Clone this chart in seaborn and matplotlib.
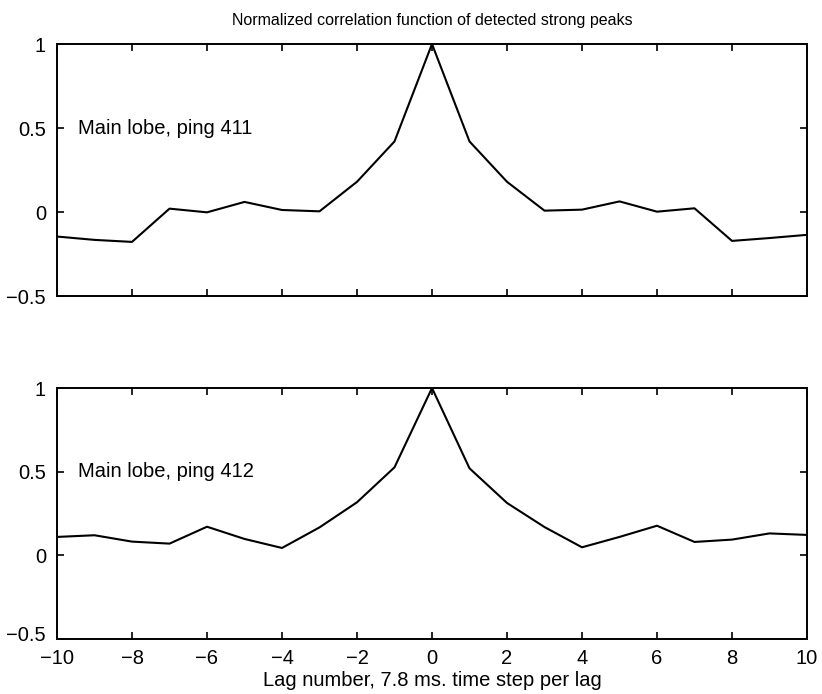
import numpy as np
import pandas as pd
import matplotlib
matplotlib.use("Agg")
import matplotlib.pyplot as plt
import matplotlib.transforms as mtransforms
import seaborn as sns

lags = list(range(-10, 11))
ping411 = [-0.146, -0.166, -0.178, 0.02, -0.002, 0.06, 0.012, 0.004, 0.18, 0.42, 1.0,
           0.42, 0.18, 0.008, 0.014, 0.063, 0.002, 0.022, -0.172, -0.155, -0.136]
ping412 = [0.11, 0.12, 0.082, 0.07, 0.171, 0.098, 0.044, 0.167, 0.317, 0.526, 1.0,
           0.52, 0.313, 0.169, 0.048, 0.11, 0.177, 0.08, 0.094, 0.131, 0.122]
labels = ["Main lobe, ping 411", "Main lobe, ping 412"]
xticks = list(range(-10, 11, 2))
yticks = [-0.5, 0, 0.5, 1]
ytick_labels = ["\u22120.5", "0", "0.5", "1"]
title = "Normalized correlation function of detected strong peaks"
xlabel = "Lag number, 7.8 ms. time step per lag"

sns.set_style("ticks")
plt.rcParams['font.family'] = ['Liberation Sans', 'DejaVu Sans']
plt.rcParams['font.size'] = 14
plt.rcParams['text.color'] = 'black'
plt.rcParams['axes.labelcolor'] = 'black'

fig = plt.figure(figsize=(8.22, 6.94), dpi=100)
W, H = 822, 694
ax1 = fig.add_axes([57 / W, 1 - 296 / H, 750 / W, 252 / H])
ax2 = fig.add_axes([57 / W, 1 - 639 / H, 750 / W, 251 / H])

for ax, vals, lab in [(ax1, ping411, labels[0]), (ax2, ping412, labels[1])]:
    df = pd.DataFrame({"lag": lags, "r": vals})
    sns.lineplot(data=df, x="lag", y="r", ax=ax, color="black", linewidth=1.5)
    ax.set_xlim(-10, 10)
    ax.set_ylim(-0.5, 1)
    ax.set_xticks(xticks)
    ax.set_yticks(yticks)
    ax.set_yticklabels(ytick_labels)
    ax.tick_params(direction="in", top=True, right=True, length=5, width=1.2,
                   labelsize=14.5, colors="black")
    ax.tick_params(axis="y", pad=8)
    ax.tick_params(axis="x", pad=7)
    for s in ax.spines.values():
        s.set_linewidth(1.4)
        s.set_color("black")
    ax.set_xlabel("")
    ax.set_ylabel("")
    ax.text(-9.45, 0.5, lab, fontsize=14.5, va="center", ha="left", color="black")

ax1.set_xticklabels([])
ax2.set_xticklabels(["\u221210", "\u22128", "\u22126", "\u22124", "\u22122", "0", "2", "4", "6", "8", "10"])
ax2.set_xlabel(xlabel, fontsize=14.5, labelpad=2, color="black")
ax1.set_title(title, fontsize=11.5, pad=14, color="black")

# lift the bottom "-0.5" label slightly, as in the reference
lbl = ax2.get_yticklabels()[0]
lbl.set_transform(lbl.get_transform() + mtransforms.ScaledTranslation(0, 4 / 72, fig.dpi_scale_trans))

fig.savefig("out.png", dpi=100, facecolor="white")
